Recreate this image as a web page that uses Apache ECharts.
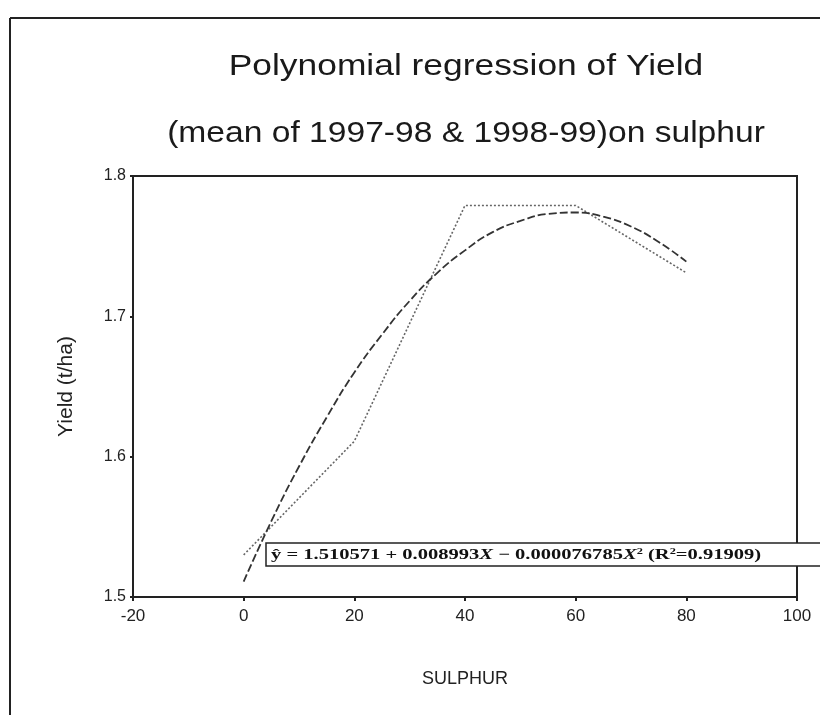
<!DOCTYPE html>
<html>
<head>
<meta charset="utf-8">
<script src="https://cdn.jsdelivr.net/npm/echarts@6/dist/echarts.min.js"></script>
<style>
html,body{margin:0;padding:0;background:#fff;}
#chart{width:820px;height:715px;}
</style>
</head>
<body>
<div id="chart"></div>
<script>
// Data
var sulphurLevels = [0, 20, 40, 60, 80];
var observedYield = [1.530, 1.611, 1.779, 1.779, 1.731];
var fitX = [0, 5, 10, 15, 20, 25, 30, 35, 40, 45, 50, 55, 60, 65, 70, 75, 80];
var fitYield = [1.511, 1.554, 1.593, 1.628, 1.660, 1.687, 1.711, 1.731, 1.747, 1.760, 1.768, 1.773, 1.774, 1.771, 1.764, 1.753, 1.739];
var xTicks = [-20, 0, 20, 40, 60, 80, 100];
var yTicks = [1.5, 1.6, 1.7, 1.8];
var titleLine1 = 'Polynomial regression of Yield';
var titleLine2 = '(mean of 1997-98 & 1998-99)on sulphur';
var xName = 'SULPHUR';
var yName = 'Yield (t/ha)';

var chart = echarts.init(document.getElementById('chart'), null, {renderer: 'canvas'});
var fontSans = 'Liberation Sans, Arial, sans-serif';
var fontSerif = 'Liberation Serif, Times New Roman, serif';

var option = {
  backgroundColor: '#ffffff',
  animation: false,
  grid: {
    left: 133, right: 23, top: 176, bottom: 118,
    show: true, borderColor: '#222', borderWidth: 2, backgroundColor: 'transparent'
  },
  xAxis: {
    type: 'value',
    min: xTicks[0], max: xTicks[xTicks.length - 1], interval: 20,
    name: xName, nameLocation: 'middle', nameGap: 73,
    nameTextStyle: {fontFamily: fontSans, fontSize: 18, color: '#222'},
    axisLine: {show: true, onZero: false, lineStyle: {color: '#222', width: 2}},
    axisTick: {show: true, inside: false, length: 4, lineStyle: {color: '#222', width: 2}},
    axisLabel: {fontFamily: fontSans, fontSize: 17, color: '#222', margin: 11},
    splitLine: {show: false}
  },
  yAxis: {
    type: 'value',
    min: yTicks[0], max: yTicks[yTicks.length - 1], interval: 0.1,
    name: yName, nameLocation: 'middle', nameGap: 56, nameRotate: 90,
    nameTextStyle: {fontFamily: fontSans, fontSize: 21, color: '#222'},
    axisLine: {show: true, onZero: false, lineStyle: {color: '#222', width: 2}},
    axisTick: {show: true, inside: false, length: 3, lineStyle: {color: '#222', width: 2}},
    axisLabel: {fontFamily: fontSans, fontSize: 16, color: '#222', margin: 7,
      formatter: function (v) { return (Math.round(v * 10) / 10).toFixed(1); }},
    splitLine: {show: false}
  },
  series: [
    {
      name: 'Observed', type: 'line',
      data: sulphurLevels.map(function (x, i) { return [x, observedYield[i]]; }),
      showSymbol: false, symbol: 'none',
      lineStyle: {color: '#666', width: 1.6, type: [2, 2]},
      z: 2
    },
    {
      name: 'Quadratic fit', type: 'line',
      data: fitX.map(function (x, i) { return [x, fitYield[i]]; }),
      smooth: true, showSymbol: false, symbol: 'none',
      lineStyle: {color: '#333', width: 1.8, type: [8, 3]},
      z: 3
    }
  ],
  graphic: [
    {type: 'line', shape: {x1: 10, y1: 18, x2: 10, y2: 715}, style: {stroke: '#222', lineWidth: 2}, z: 10},
    {type: 'line', shape: {x1: 10, y1: 18, x2: 820, y2: 18}, style: {stroke: '#222', lineWidth: 2}, z: 10},
    {type: 'text', x: 466, y: 67, scaleX: 1.22, scaleY: 1,
      style: {text: titleLine1, font: '29px ' + fontSans, fill: '#1a1a1a', textAlign: 'center', textVerticalAlign: 'middle'}, z: 10},
    {type: 'text', x: 466, y: 134, scaleX: 1.12, scaleY: 1,
      style: {text: titleLine2, font: '30px ' + fontSans, fill: '#1a1a1a', textAlign: 'center', textVerticalAlign: 'middle'}, z: 10},
    {type: 'rect', shape: {x: 266, y: 543, width: 560, height: 23}, style: {fill: '#fff', stroke: '#222', lineWidth: 1.5}, z: 20},
    {type: 'text', x: 271, y: 555, scaleX: 1.37, scaleY: 1, z: 21,
      style: {
        text: '{a|ŷ = 1.510571 + 0.008993}{i|X}{a| − 0.000076785}{i|X}{s|2}{a| (R}{s|2}{a|=0.91909)}',
        textVerticalAlign: 'middle',
        rich: {
          a: {font: 'bold 15px ' + fontSerif, fill: '#111'},
          i: {font: 'italic bold 15px ' + fontSerif, fill: '#111'},
          s: {font: 'bold 9px ' + fontSerif, fill: '#111', verticalAlign: 'top', padding: [0, 0, 6, 0]}
        }
      }
    }
  ]
};
chart.setOption(option);
</script>
</body>
</html>
